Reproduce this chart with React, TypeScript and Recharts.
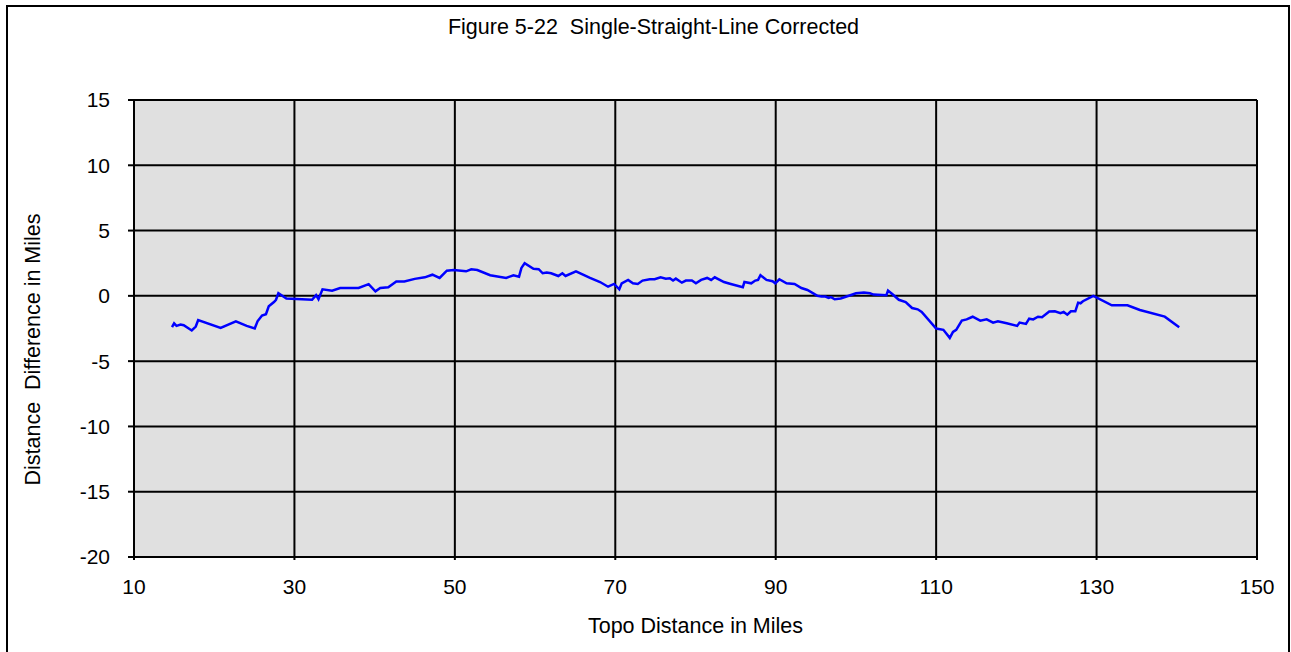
import { LineChart, Line, XAxis, YAxis, CartesianGrid } from "recharts";

const topoMiles = [
  14.74, 15.0, 15.3, 15.8, 16.2, 17.2, 17.7, 18.0, 20.8, 22.7, 24.05, 25.05, 25.4, 25.96, 26.45, 26.8,
  27.45, 27.7, 28.0, 29.0, 32.2, 32.7, 33.0, 33.5, 34.7, 35.7, 38.0, 39.25, 40.1, 40.7, 41.7, 42.7,
  43.7, 45.0, 46.25, 47.2, 48.1, 49.0, 49.85, 51.4, 52.05, 52.8, 54.4, 56.4, 57.3, 58.0, 58.3, 58.7,
  59.8, 60.45, 60.95, 61.45, 62.0, 62.9, 63.4, 63.8, 65.1, 66.85, 68.1, 69.1, 69.85, 70.5, 70.8, 71.6,
  72.2, 72.8, 73.4, 74.3, 74.9, 75.65, 76.3, 76.8, 77.2, 77.55, 78.3, 78.8, 79.55, 80.05, 80.7, 81.45,
  81.95, 82.4, 83.55, 84.4, 85.9, 86.1, 86.95, 87.45, 87.8, 88.1, 88.85, 89.6, 89.95, 90.45, 91.35, 92.35,
  93.2, 93.95, 95.2, 95.7, 96.2, 96.6, 96.9, 97.35, 98.1, 99.3, 100.0, 101.0, 101.75, 102.2, 103.8, 104.0,
  104.6, 105.35, 106.2, 107.0, 107.7, 108.2, 110.0, 110.9, 111.7, 112.1, 112.5, 113.2, 113.8, 114.55, 115.5, 116.3,
  117.1, 117.7, 118.8, 120.1, 120.4, 121.2, 121.6, 122.1, 122.7, 123.2, 124.1, 124.8, 125.5, 125.9, 126.35, 126.8,
  127.35, 127.7, 128.0, 128.3, 129.6, 131.9, 133.85, 135.4, 138.5, 140.3,
];

const diffMiles = [
  -2.4, -2.1, -2.3, -2.2, -2.25, -2.65, -2.35, -1.85, -2.45, -1.95, -2.3, -2.5, -1.95, -1.5, -1.4, -0.8,
  -0.47, -0.3, 0.2, -0.2, -0.3, 0.05, -0.26, 0.5, 0.4, 0.6, 0.6, 0.9, 0.35, 0.6, 0.66, 1.1,
  1.1, 1.3, 1.42, 1.62, 1.37, 1.93, 1.98, 1.88, 2.03, 1.98, 1.58, 1.37, 1.58, 1.47, 2.14, 2.5,
  2.08, 2.04, 1.73, 1.78, 1.73, 1.52, 1.73, 1.52, 1.88, 1.37, 1.06, 0.7, 0.91, 0.5, 0.96, 1.22,
  0.96, 0.91, 1.17, 1.27, 1.27, 1.42, 1.32, 1.35, 1.17, 1.32, 1.01, 1.17, 1.17, 0.96, 1.22, 1.37,
  1.22, 1.42, 1.06, 0.91, 0.66, 1.06, 0.96, 1.17, 1.22, 1.58, 1.22, 1.12, 0.96, 1.27, 0.96, 0.91,
  0.6, 0.45, 0.0, -0.05, -0.05, -0.16, -0.1, -0.26, -0.2, 0.05, 0.2, 0.25, 0.2, 0.1, 0.05, 0.4,
  0.1, -0.3, -0.47, -0.93, -1.03, -1.23, -2.5, -2.6, -3.22, -2.76, -2.6, -1.9, -1.8, -1.6, -1.9, -1.8,
  -2.05, -1.95, -2.1, -2.3, -2.05, -2.15, -1.75, -1.8, -1.6, -1.64, -1.2, -1.18, -1.33, -1.23, -1.44, -1.18,
  -1.18, -0.52, -0.57, -0.41, 0.0, -0.72, -0.72, -1.08, -1.59, -2.4,
];

const xTicks = [10, 30, 50, 70, 90, 110, 130, 150];
const yTicks = [-20, -15, -10, -5, 0, 5, 10, 15];

const data = topoMiles.map((x, i) => ({ x, y: diffMiles[i] }));

const font = "'Liberation Sans', Arial, sans-serif";
const fs = 21.5; // titles
const tfs = 21; // tick labels

export default function App() {
  return (
    <div style={{ position: "absolute", left: 0, top: 0, width: 1291, height: 652, overflow: "hidden", background: "#fff", fontFamily: font }}>
      <div style={{ position: "absolute", left: 6, top: 5, width: 1284, height: 660, border: "2px solid #000", boxSizing: "border-box" }} />
      <div style={{ position: "absolute", left: 0, width: 1307, top: 15, lineHeight: "25px", textAlign: "center", fontSize: fs, color: "#000", whiteSpace: "pre" }}>
        {"Figure 5-22  Single-Straight-Line Corrected"}
      </div>
      <div style={{ position: "absolute", left: 0, width: 1391, top: 614, lineHeight: "25px", textAlign: "center", fontSize: fs, color: "#000" }}>
        Topo Distance in Miles
      </div>
      <div
        style={{
          position: "absolute", left: 33, top: 349, width: 400, marginLeft: -200, marginTop: -12.5, lineHeight: "25px", textAlign: "center",
          fontSize: fs, color: "#000", transform: "rotate(-90deg)", whiteSpace: "pre",
        }}
      >
        {"Distance  Difference in Miles"}
      </div>
      <div style={{ position: "absolute", left: 0, top: 0 }}>
        <LineChart width={1291} height={652} data={data} margin={{ top: 100, right: 34, left: 74, bottom: 65 }}>
          <CartesianGrid fill="#e0e0e0" fillOpacity={1} stroke="#000" strokeWidth={2} />
          <XAxis
            dataKey="x" type="number" domain={[10, 150]} ticks={xTicks} height={30}
            axisLine={{ stroke: "#000", strokeWidth: 2 }} tickLine={{ stroke: "#000", strokeWidth: 2 }} tickSize={3} tickMargin={19}
            tick={{ fill: "#000", fontSize: tfs, fontFamily: font }} interval={0}
          />
          <YAxis
            type="number" domain={[-20, 15]} ticks={yTicks} width={60}
            axisLine={{ stroke: "#000", strokeWidth: 2 }} tickLine={{ stroke: "#000", strokeWidth: 2 }} tickSize={6} tickMargin={18}
            tick={{ fill: "#000", fontSize: tfs, fontFamily: font }} interval={0}
          />
          <Line dataKey="y" type="linear" stroke="#0000ff" strokeWidth={2.5} dot={false} isAnimationActive={false} />
        </LineChart>
      </div>
    </div>
  );
}
